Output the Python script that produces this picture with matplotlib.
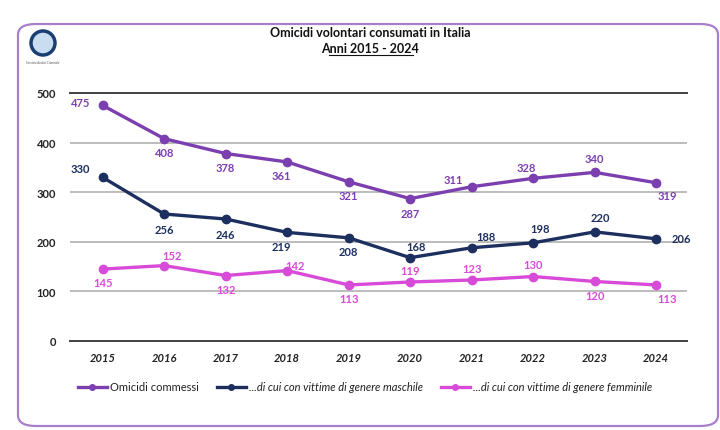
import matplotlib.pyplot as plt
from matplotlib.patches import FancyBboxPatch, Ellipse
from matplotlib.lines import Line2D

plt.rcParams['font.family'] = ['Lato', 'DejaVu Sans']

years = ["2015", "2016", "2017", "2018", "2019", "2020", "2021", "2022", "2023", "2024"]
omicidi = [475, 408, 378, 361, 321, 287, 311, 328, 340, 319]
maschi = [330, 256, 246, 219, 208, 168, 188, 198, 220, 206]
femmine = [145, 152, 132, 142, 113, 119, 123, 130, 120, 113]

series_names = ["Omicidi commessi",
                "...di cui con vittime di genere maschile",
                "...di cui con vittime di genere femminile"]

C_OM = "#7B3FB0"
C_MA = "#1C2F5E"
C_FE = "#D84BD8"

# label offsets in points (dx, dy) per point
off_om = [(-16, 2), (0, -10), (0, -10), (-4, -10), (0, -10), (0, -11), (-13, 5), (-5, 8), (0, 10), (8, -9)]
off_ma = [(-16, 6), (0, -11), (0, -11), (-4, -10), (0, -10), (4, 8), (10, 8), (5, 10), (4, 10), (18, 0)]
off_fe = [(0, -10), (6, 7), (0, -10), (6, 4), (0, -10), (0, 8), (0, 8), (0, 9), (0, -10), (8, -10)]

fig = plt.figure(figsize=(7.2, 4.31), dpi=100)
ax = fig.add_axes([70 / 720, 1 - 342 / 431, 617 / 720, 248 / 431])

# frame around the whole chart
frame = FancyBboxPatch((18 / 720, 1 - 427 / 431), 700 / 720, 402 / 431,
                       boxstyle="round,pad=0,rounding_size=0.025",
                       transform=fig.transFigure, fill=False,
                       edgecolor="#A77FCB", linewidth=1.6)
fig.patches.append(frame)

# small logo
logo = Ellipse((43 / 720, 1 - 44 / 431), 24 / 720, 24 / 431, transform=fig.transFigure,
               facecolor="#C9DDF0", edgecolor="#1C3F73", linewidth=2.5)
fig.patches.append(logo)
fig.text(43 / 720, 1 - 63 / 431, "Servizio Analisi Criminale", fontsize=2.2,
         ha="center", va="center", color="#555555")

x = list(range(len(years)))

for vals, col, offs in [(omicidi, C_OM, off_om), (maschi, C_MA, off_ma), (femmine, C_FE, off_fe)]:
    ax.plot(x, vals, color=col, linewidth=2.4, marker="o", markersize=6, zorder=3)
    for xi, v, (dx, dy) in zip(x, vals, offs):
        ax.annotate(str(v), (xi, v), xytext=(dx, dy), textcoords="offset points",
                    ha="center", va="center", fontsize=8, fontweight="bold", color=col)

ax.set_xlim(-0.53, 9.5)
ax.set_ylim(0, 500)
for yv in [100, 200, 300, 400]:
    ax.axhline(yv, color="#B0B0B0", linewidth=1.2, zorder=1)
for yv in [0, 500]:
    ax.axhline(yv, color="#404040", linewidth=1.4, zorder=1, clip_on=False)

for s in ax.spines.values():
    s.set_visible(False)
ax.set_yticks([0, 100, 200, 300, 400, 500])
ax.set_yticklabels(["0", "100", "200", "300", "400", "500"], fontsize=8, fontweight="bold", color="#222222")
ax.set_xticks(x)
ax.set_xticklabels(years, fontsize=8, fontweight="bold", fontstyle="italic", color="#222222")
ax.tick_params(axis="both", length=0)
ax.tick_params(axis="y", pad=10)
ax.tick_params(axis="x", pad=8)

fig.text(370 / 720, 1 - 33 / 431, "Omicidi volontari consumati in Italia",
         ha="center", va="center", fontsize=9, fontweight="bold", color="#111111")
fig.text(370 / 720, 1 - 49 / 431, "Anni 2015 - 2024",
         ha="center", va="center", fontsize=9, fontweight="bold", color="#111111")
# underline for the subtitle
fig.add_artist(Line2D([329 / 720, 413 / 720], [1 - 56 / 431, 1 - 56 / 431],
                      transform=fig.transFigure, color="#111111", linewidth=0.8))

handles = [Line2D([], [], color=c, linewidth=2.4, marker="o", markersize=4)
           for c in (C_OM, C_MA, C_FE)]
leg = fig.legend(handles, series_names, loc="center left",
                 bbox_to_anchor=(68 / 720, 1 - 388 / 431), ncol=3, frameon=False,
                 fontsize=8, handlelength=2.6, handletextpad=0.3, columnspacing=1.6)
for i, txt in enumerate(leg.get_texts()):
    txt.set_color("#222222")
    if i > 0:
        txt.set_fontstyle("italic")

fig.savefig("out.png", dpi=100)
